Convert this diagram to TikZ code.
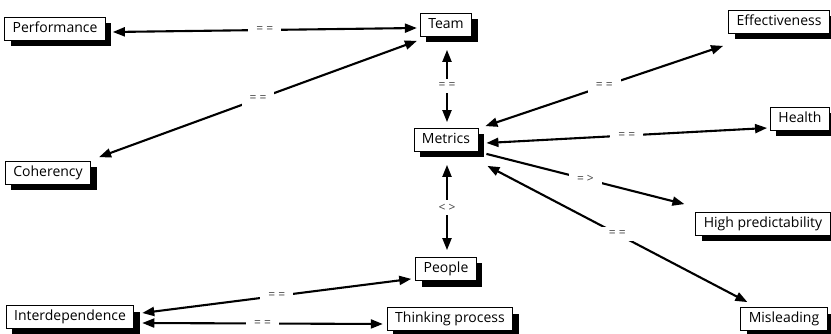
\documentclass[tikz,border=0pt]{standalone}
\usepackage{fontspec}
\setmainfont{Open Sans}
\usetikzlibrary{arrows.meta,shadows}
\begin{document}
\begin{tikzpicture}[x=1pt,y=-1pt,
  topic/.style={draw=black,line width=0.8pt,fill=white,font=\fontsize{14}{16}\selectfont,inner xsep=8pt,inner ysep=4.75pt,text height=10.5pt,text depth=3pt,drop shadow={shadow xshift=\sh,shadow yshift=-\sh,opacity=1,fill=black}},
  link/.style={line width=2.1pt,{Triangle[length=12pt,width=9pt]}-{Triangle[length=12pt,width=9pt]}},
  linkR/.style={link,-{Triangle[length=12pt,width=9pt]}},
  rel/.style={fill=white,text=black!75,font=\fontsize{12}{14}\selectfont,inner xsep=8pt,inner ysep=4pt}]
\def\sh{6pt};

\useasboundingbox (0,0) rectangle (831,334);

\node[topic] (P) at (55,29) {Performance};
\node[topic] (T) at (446,25) {Team};
\node[topic] (E) at (779,22) {Effectiveness};
\node[topic] (M) at (446,140) {Metrics};
\node[topic] (H) at (800,119) {Health};
\node[topic] (C) at (48,173) {Coherency};
\node[topic] (HP) at (763,224) {High predictability};
\node[topic] (Pe) at (446,269) {People};
\node[topic] (I) at (70,317) {Interdependence};
\node[topic] (TP) at (450,319) {Thinking process};
\node[topic] (Mi) at (784,319) {Misleading};

\draw[link] ([shift={(7,3)}]P.east) -- node[rel] {= =} ([shift={(-3,3)}]T.west);
\draw[link] ([shift={(8,-4)}]C.north east) -- node[rel] {= =} ([shift={(-3,4)}]T.south west);
\draw[link] ([shift={(1,13)}]T.south) -- node[rel] {= =} ([shift={(1,-6)}]M.north);
\draw[link] ([shift={(7,-2)}]M.north east) -- node[rel] {= =} ([shift={(-5,12)}]E.south west);
\draw[link] ([shift={(8,3)}]M.east) -- node[rel] {= =} ([shift={(-3,9)}]H.west);
\draw[linkR] ([shift={(8,2)}]M.south east) -- node[rel] {= >} ([shift={(-11,-8)}]HP.north west);
\draw[link] ([shift={(9,14)}]M.south east) -- node[rel] {= =} ([shift={(7,-5)}]Mi.north west);
\draw[link] ([shift={(1,13)}]M.south) -- node[rel] {< >} ([shift={(1,-7)}]Pe.north);
\draw[link] ([shift={(-4,-2)}]Pe.south west) -- node[rel] {= =} ([shift={(8,-4)}]I.east);
\draw[link] ([shift={(8,6)}]I.east) -- node[rel] {= =} ([shift={(-4,5)}]TP.west);
\end{tikzpicture}
\end{document}
